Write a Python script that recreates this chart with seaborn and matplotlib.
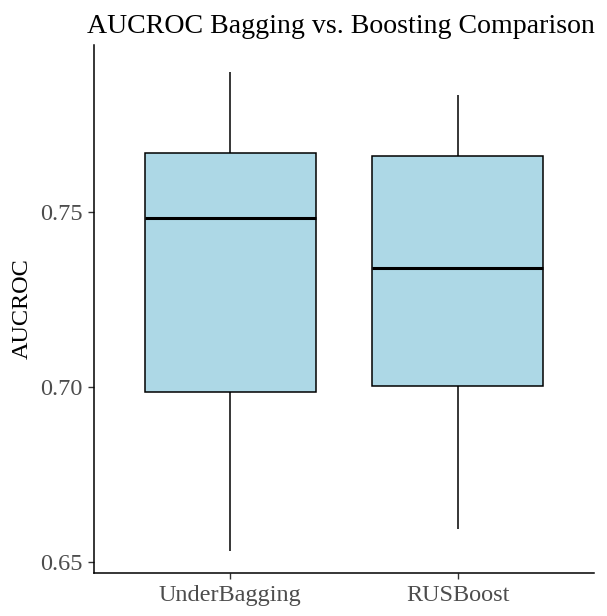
import pandas as pd
import matplotlib.pyplot as plt
import seaborn as sns

# Five-number summaries (min, Q1, median, Q3, max)
methods = ["UnderBagging", "RUSBoost"]
underbagging_auc = [0.6532, 0.6986, 0.7484, 0.7669, 0.7901]
rusboost_auc = [0.6595, 0.7003, 0.7342, 0.7661, 0.7835]
y_ticks = [0.65, 0.70, 0.75]

df = pd.DataFrame({
    "Method": [methods[0]] * len(underbagging_auc) + [methods[1]] * len(rusboost_auc),
    "AUCROC": underbagging_auc + rusboost_auc,
})

sns.set_style("white")
plt.rcParams["font.family"] = ["Liberation Serif", "DejaVu Serif"]

fig = plt.figure(figsize=(6.07, 6.16), dpi=100)
ax = fig.add_axes([0.1549, 0.0698, 0.8237, 0.857])

sns.boxplot(data=df, x="Method", y="AUCROC", order=methods, ax=ax,
            color="lightblue", saturation=1, width=0.75, whis=1.5, fliersize=0,
            boxprops=dict(edgecolor="black", linewidth=1.1),
            whiskerprops=dict(color="black", linewidth=1.1),
            capprops=dict(linewidth=0),
            medianprops=dict(color="black", linewidth=2.2))

ax.set_xlim(-0.6, 1.6)
ax.set_ylim(0.647, 0.7977)
ax.set_yticks(y_ticks)
ax.set_yticklabels([f"{t:.2f}" for t in y_ticks])
ax.tick_params(axis="both", which="major", direction="out", length=4.3, width=1,
               color="#333333", pad=4, labelsize=17.5, labelcolor="#4D4D4D",
               left=True, bottom=True)
ax.set_xlabel("")
ax.set_ylabel("AUCROC", fontsize=17.5, color="black", labelpad=5)
ax.set_title("AUCROC Bagging vs. Boosting Comparison", fontsize=20.1, loc="left",
             x=-0.014, pad=9, color="black")
for side in ["top", "right"]:
    ax.spines[side].set_visible(False)
for side in ["left", "bottom"]:
    ax.spines[side].set_color("black")
    ax.spines[side].set_linewidth(1.1)

fig.savefig("out.png", dpi=100)
